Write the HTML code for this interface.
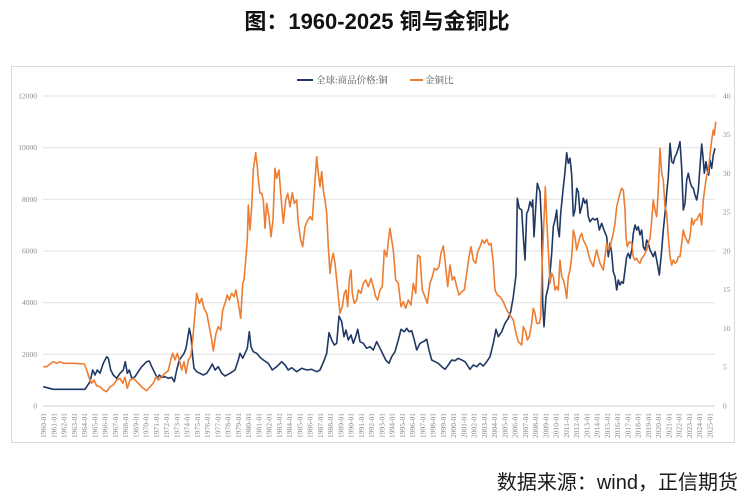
<!DOCTYPE html>
<html><head><meta charset="utf-8"><style>
html,body{margin:0;padding:0;background:#fff;}
svg{display:block;}
</style></head><body>
<svg width="753" height="498" viewBox="0 0 753 498" xmlns="http://www.w3.org/2000/svg">
<rect width="753" height="498" fill="#fff"/>
<text x="377" y="29" text-anchor="middle" font-family="'Liberation Sans','Noto Sans CJK SC',sans-serif" font-weight="bold" font-size="22" fill="#111">图：1960-2025 铜与金铜比</text>
<rect x="11.5" y="66.5" width="723" height="376" fill="#fff" stroke="#d9d9d9" stroke-width="1"/>
<!-- legend -->
<line x1="297" y1="80" x2="313" y2="80" stroke="#203864" stroke-width="2"/>
<text x="316" y="83.5" font-family="'Liberation Serif','Noto Serif CJK SC',serif" font-size="9.5" fill="#595959">全球:商品价格:铜</text>
<line x1="410" y1="80" x2="423" y2="80" stroke="#ed7d31" stroke-width="2"/>
<text x="425" y="83.5" font-family="'Liberation Serif','Noto Serif CJK SC',serif" font-size="9.5" fill="#595959">金铜比</text>
<!-- grid -->
<g stroke="#e0e0e0" stroke-width="1">
<line x1="43" y1="96" x2="715" y2="96"/>
<line x1="43" y1="147.7" x2="715" y2="147.7"/>
<line x1="43" y1="199.3" x2="715" y2="199.3"/>
<line x1="43" y1="251" x2="715" y2="251"/>
<line x1="43" y1="302.7" x2="715" y2="302.7"/>
<line x1="43" y1="354.3" x2="715" y2="354.3"/>
<line x1="43" y1="406" x2="715" y2="406" stroke="#d0d0d0"/>
</g>
<g font-family="'Liberation Serif',serif" font-size="7.5" fill="#8a8a8a" text-anchor="end">
<text x="37" y="98.5">12000</text>
<text x="37" y="150.2">10000</text>
<text x="37" y="201.8">8000</text>
<text x="37" y="253.5">6000</text>
<text x="37" y="305.2">4000</text>
<text x="37" y="356.8">2000</text>
<text x="37" y="408.5">0</text>
</g>
<g font-family="'Liberation Serif',serif" font-size="7.5" fill="#8a8a8a">
<text x="723" y="98.5">40</text>
<text x="723" y="137.2">35</text>
<text x="723" y="176">30</text>
<text x="723" y="214.7">25</text>
<text x="723" y="253.5">20</text>
<text x="723" y="292.2">15</text>
<text x="723" y="331">10</text>
<text x="723" y="369.7">5</text>
<text x="723" y="408.5">0</text>
</g>
<!-- x labels -->
<g font-family="'Liberation Serif',serif" font-size="7.5" fill="#8a8a8a" text-anchor="end">
<text transform="translate(46.1,413) rotate(-90)">1960-01</text>
<text transform="translate(56.35,413) rotate(-90)">1961-01</text>
<text transform="translate(66.6,413) rotate(-90)">1962-01</text>
<text transform="translate(76.85,413) rotate(-90)">1963-01</text>
<text transform="translate(87.1,413) rotate(-90)">1964-01</text>
<text transform="translate(97.35,413) rotate(-90)">1965-01</text>
<text transform="translate(107.6,413) rotate(-90)">1966-01</text>
<text transform="translate(117.85,413) rotate(-90)">1967-01</text>
<text transform="translate(128.1,413) rotate(-90)">1968-01</text>
<text transform="translate(138.35,413) rotate(-90)">1969-01</text>
<text transform="translate(148.6,413) rotate(-90)">1970-01</text>
<text transform="translate(158.85,413) rotate(-90)">1971-01</text>
<text transform="translate(169.1,413) rotate(-90)">1972-01</text>
<text transform="translate(179.35,413) rotate(-90)">1973-01</text>
<text transform="translate(189.6,413) rotate(-90)">1974-01</text>
<text transform="translate(199.85,413) rotate(-90)">1975-01</text>
<text transform="translate(210.1,413) rotate(-90)">1976-01</text>
<text transform="translate(220.35,413) rotate(-90)">1977-01</text>
<text transform="translate(230.6,413) rotate(-90)">1978-01</text>
<text transform="translate(240.85,413) rotate(-90)">1979-01</text>
<text transform="translate(251.1,413) rotate(-90)">1980-01</text>
<text transform="translate(261.35,413) rotate(-90)">1981-01</text>
<text transform="translate(271.6,413) rotate(-90)">1982-01</text>
<text transform="translate(281.85,413) rotate(-90)">1983-01</text>
<text transform="translate(292.1,413) rotate(-90)">1984-01</text>
<text transform="translate(302.35,413) rotate(-90)">1985-01</text>
<text transform="translate(312.6,413) rotate(-90)">1986-01</text>
<text transform="translate(322.85,413) rotate(-90)">1987-01</text>
<text transform="translate(333.1,413) rotate(-90)">1988-01</text>
<text transform="translate(343.35,413) rotate(-90)">1989-01</text>
<text transform="translate(353.6,413) rotate(-90)">1990-01</text>
<text transform="translate(363.85,413) rotate(-90)">1991-01</text>
<text transform="translate(374.1,413) rotate(-90)">1992-01</text>
<text transform="translate(384.35,413) rotate(-90)">1993-01</text>
<text transform="translate(394.6,413) rotate(-90)">1994-01</text>
<text transform="translate(404.85,413) rotate(-90)">1995-01</text>
<text transform="translate(415.1,413) rotate(-90)">1996-01</text>
<text transform="translate(425.35,413) rotate(-90)">1997-01</text>
<text transform="translate(435.6,413) rotate(-90)">1998-01</text>
<text transform="translate(445.85,413) rotate(-90)">1999-01</text>
<text transform="translate(456.1,413) rotate(-90)">2000-01</text>
<text transform="translate(466.35,413) rotate(-90)">2001-01</text>
<text transform="translate(476.6,413) rotate(-90)">2002-01</text>
<text transform="translate(486.85,413) rotate(-90)">2003-01</text>
<text transform="translate(497.1,413) rotate(-90)">2004-01</text>
<text transform="translate(507.35,413) rotate(-90)">2005-01</text>
<text transform="translate(517.6,413) rotate(-90)">2006-01</text>
<text transform="translate(527.85,413) rotate(-90)">2007-01</text>
<text transform="translate(538.1,413) rotate(-90)">2008-01</text>
<text transform="translate(548.35,413) rotate(-90)">2009-01</text>
<text transform="translate(558.6,413) rotate(-90)">2010-01</text>
<text transform="translate(568.85,413) rotate(-90)">2011-01</text>
<text transform="translate(579.1,413) rotate(-90)">2012-01</text>
<text transform="translate(589.35,413) rotate(-90)">2013-01</text>
<text transform="translate(599.6,413) rotate(-90)">2014-01</text>
<text transform="translate(609.85,413) rotate(-90)">2015-01</text>
<text transform="translate(620.1,413) rotate(-90)">2016-01</text>
<text transform="translate(630.35,413) rotate(-90)">2017-01</text>
<text transform="translate(640.6,413) rotate(-90)">2018-01</text>
<text transform="translate(650.85,413) rotate(-90)">2019-01</text>
<text transform="translate(661.1,413) rotate(-90)">2020-01</text>
<text transform="translate(671.35,413) rotate(-90)">2021-01</text>
<text transform="translate(681.6,413) rotate(-90)">2022-01</text>
<text transform="translate(691.85,413) rotate(-90)">2023-01</text>
<text transform="translate(702.1,413) rotate(-90)">2024-01</text>
<text transform="translate(712.35,413) rotate(-90)">2025-01</text>
</g>
<!-- copper (blue) -->
<polyline fill="none" stroke="#203864" stroke-width="1.6" stroke-linejoin="round" points="43.3,386.7 53.3,389.3 85,389.3 86.7,386.7 90,381.7 92.7,370 95,375 97.3,370 100,373.3 103.3,363.3 106.7,356.7 108.3,358.3 110.7,370 113.3,375 116.7,378.3 120,373.3 123.3,370 125.3,361.7 127.3,373.3 129.3,370 131.7,378.3 135,376.7 138.3,371.7 141.7,366.7 146.7,361.7 149.3,361 151.7,366.7 155,373.3 157.3,378.3 159.3,375 161.7,377.3 165,376.7 168.3,378.3 171.7,377.3 174.3,381.7 176.7,370 179.3,360 181.7,356.7 184,353.3 186,348.3 187.7,338.3 189.3,328.3 191,336.7 192.7,356.7 194,368.3 196.7,371.7 200,373.3 203.3,375 206.7,373.3 210,368.3 212.3,364 215,370 218.3,366.7 221.7,373.3 225,376 230,373.3 235,370 238.3,360 240,353.3 242.7,358.3 245,353.3 247.3,348.3 249.3,331.7 251,346.7 253.3,351.7 256.7,353.3 260,357.3 263.3,360 268.3,363.3 272.3,370 276.7,366.7 281.7,361.7 285,365 288.3,370 291.7,367.7 296.7,371.7 301.7,368.3 306.7,370 311.7,369.3 316.7,371.7 320,370 324.3,360 326.7,353.3 329,332.7 331.7,340 334.3,345 336.7,343.3 339,316 341.7,321.7 344,336.7 346,330 348.3,340 351,335 353.3,343.3 355.7,336.7 357.7,329.3 360,341.7 363.3,343.3 366.7,348.3 370,346.7 373.3,350 376.7,341.7 380,348.3 383.3,355 385.7,360 389,363.3 391.7,356.7 395,351.7 398.3,340 401,329.3 404.3,331.7 406.7,328.3 409,331.7 411.7,330.7 414.3,340 416.7,350 420,343.3 423.3,341.7 426.7,339.3 429,350 431.7,360 435,361.7 438.3,363.3 441.7,366.7 445,369.3 448.3,365 451.7,360 455,360.7 458.3,358.3 461.7,360 465,361.7 470,369.3 473.3,365 476.7,366.7 480,363.3 483.3,366 486.7,361.7 490,356.7 493.3,343.3 496,329.3 498.3,336.7 501.7,331.7 505,323.3 508.3,318.3 510.7,311.7 513.3,296.7 516,275 517.3,198.3 519.3,208.3 521.7,210 523.3,236.7 525,260 526.7,213.3 528.3,210 530,201.7 531.7,206.7 532.7,200 534,236.7 536,203.3 537.3,183.3 540,191.7 541.7,226.7 542.7,303.3 544,326.7 546,296.7 548.3,286.7 550,273.3 551.7,253.3 553.3,226.7 555,220 556.7,210 557.7,226.7 559.3,236.7 560.7,213.3 562.7,193.3 565,171.7 566.7,152.7 568.3,163.3 570,158.3 571.7,175 573.3,216 575,210 576.7,188.3 578.3,191.7 580,213.3 581.7,206.7 583.3,198.3 585,203.3 586.7,200 588.3,216.7 590,221.7 592.7,218.3 595,220 597.3,218.3 599.3,230 601.7,223.3 604,230 606.7,236.7 608.3,256.7 610,243.3 611.7,253.3 613.3,271.7 615,276.7 616.7,290 618.3,280 620,285 621.7,281.7 623.3,283.3 625,270 626.7,256.7 628.3,253.3 630,258.3 631.7,250 633.3,233.3 635,225 636.7,230 638.3,226.7 640,235 641.7,230 643.3,246.7 645,250 646.7,240 648.3,243.3 650,250 651.7,253.3 653.3,256.7 655,251.7 656.7,260 659.3,275 661.7,250 663.3,230 665,213.3 666.7,193.3 668.3,176.7 670,143.3 671.7,161.7 673.3,163.3 675,156.7 676.7,153.3 678.3,148.3 680,141.7 681.7,168.3 683.3,210 685,203.3 686.7,180 688.3,173.3 690,181.7 691.7,186.7 693.3,188.3 695,195 696.7,200 698.3,190 700,166.7 701.7,144 703.3,160 704.3,173.3 706,161.7 707.3,170 708.7,175 710,160 711.7,168.3 713.3,155 715,148.3"/>
<!-- gold/copper ratio (orange) -->
<polyline fill="none" stroke="#ed7d31" stroke-width="1.6" stroke-linejoin="round" points="43.3,366.7 46.7,366.7 50,364 53.3,361.7 56.7,363.3 60,361.7 63.3,363.3 73.3,363.3 84.3,364 86.7,370 89.3,378.3 91.7,383.3 94,380 96.7,386 100,386.7 103.3,390 106.7,391.7 110,386.7 113.3,385 116.7,380 120,378.3 122.7,383.3 125,377.3 127.3,388.3 130,380 133.3,378.3 136.7,381.7 140,385 143.3,388.3 146.7,390.7 150,386.7 153.3,383.3 156,376.7 158.3,380 161.7,376.7 165,373.3 168.3,370.7 170.7,360 172.7,353.3 175,360 177.3,353.3 179.3,360 181.7,370 184,361.7 186,373.3 188.3,360 190.7,356.7 192.7,340 195,313.3 196.7,293.3 199.3,303.3 201.7,298.3 204,308.3 206.7,313.3 209.3,326.7 211.7,340 213.3,350.7 216,333.3 218.3,326.7 220.7,330 222.7,310 225,303.3 227.3,295 229.3,300 231.7,293.3 234,296.7 236,290 238.3,303.3 240.7,318.3 242.7,283.3 244,280 246,256.7 247.3,240 248.3,205 250,230 251.7,206.7 253.3,170 255.7,152.7 257.3,166.7 258.7,183.3 260,193.3 261.7,193.3 263.3,200 265,228.3 266.7,203.3 269,216.7 271,236.7 273,220 275,168.3 276.7,178.3 279,170 281,196.7 283.3,223.3 285.7,200 287.7,193.3 290,206.7 292.3,192.7 294.3,203.3 296.7,200 298.3,223.3 300.7,240 302.7,246.7 305,226.7 307.7,220 310,216.7 312.3,220 315,180 316.7,156.7 318.3,173.3 320,186.7 321.7,171.7 323.3,190 325,200 326.7,213.3 328.3,246.7 330,273.3 331.7,260 333.3,253.3 335,263.3 336.7,280 338.3,296.7 340,313.3 342.3,306.7 344.3,293.3 346,290 347.7,306.7 349.3,280 351,270 352.3,293.3 354.3,303.3 356.7,300 358.3,290 361,293.3 363.3,283.3 365.7,280 368.3,286.7 371,278.3 373.3,286.7 375.7,296.7 377.7,300 380,290 382.3,286.7 384.3,250 386.7,256.7 388.3,241.7 390,228.3 391.7,240 393.3,250 395.7,280 398.3,283.3 401,306.7 403.3,301.7 405.7,308.3 408.3,300 411,305 413.3,283.3 415.7,293.3 417.7,255 420,256.7 422.3,290 425,296.7 427.3,303.3 430,283.3 432.3,276.7 434.3,268.3 436.7,270 439,266.7 441,253.3 443.3,246 445,260 447.7,286.7 450,265 452.3,280 454.3,276.7 456.7,286.7 459,295 461.7,291.7 464.3,290 466.7,273.3 469,256.7 471,246.7 473.3,260 475.7,263.3 477.7,251.7 480,246.7 482.3,240 484.3,243.3 486.7,239.3 489,245 491,243.3 493,260 495,290 497.3,295 500,296.7 503.3,301.7 506.7,310 510,315 513.3,320 516,333.3 518.3,341.7 521.7,345 523.3,326.7 525.7,331.7 527.3,340 529.3,336.7 531.7,323.3 533.3,308.3 535,313.3 536.7,323.3 539.3,323.3 540.7,316.7 542.3,260 544,220 545.3,186.7 546.7,220 548.3,250 550,283.3 551.7,273.3 553.3,276.7 555,290 556.7,286.7 558.3,290 560,260 561.7,276.7 563.3,280 565,286.7 566.7,298.3 568.3,276.7 570,270 571.7,256.7 573.3,230 575,236.7 576.7,250 578.3,243.3 580,236.7 581.7,233.3 583.3,240 585,243.3 586.7,246.7 588.3,253.3 590,260 591.7,263.3 593.3,266.7 595,256.7 596.7,250 598.3,256.7 600,263.3 601.7,266.7 603.3,270 605,256.7 606.7,243.3 608.3,250 610,246.7 611.7,240 613.3,233.3 615,223.3 616.7,206.7 618.3,200 620,193.3 621.7,188.3 623.3,190 625,210 626,236.7 627.3,246.7 629.3,241.7 631.7,243.3 633.3,256.7 635,260 636.7,258.3 638.3,261.7 640,263.3 641.7,258.3 643.3,256.7 645,253.3 646.7,250 648.3,243.3 650,238.3 651.7,220 653.3,200 655,210 656.7,216.7 658.3,190 660,148.3 661.7,173.3 663.3,180 665,206.7 666.7,213.3 668.3,236.7 670,256.7 671.7,265 673.3,260 675,263.3 676.7,261.7 678.3,256.7 680,256.7 681.7,243.3 683.3,230 685,236.7 686.7,240 688.3,243.3 690,236.7 691.7,218.3 693.3,225 695,220 696.7,220 698.3,216.7 700,213.3 701.7,225 703.3,200 705,186.7 706.7,175 708.3,171.7 710,155 711.7,140 713.3,130 714.3,135 715.7,121.7"/>
<text x="738" y="489" text-anchor="end" font-family="'Liberation Sans','Noto Sans CJK SC',sans-serif" font-size="20" fill="#1a1a1a">数据来源：wind，正信期货</text>
</svg>
</body></html>
